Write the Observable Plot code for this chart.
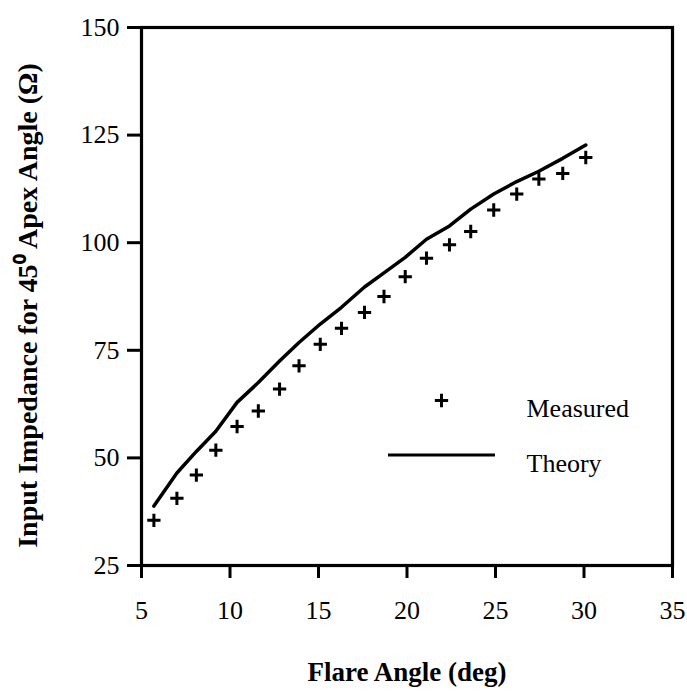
<!DOCTYPE html>
<html>
<head>
<meta charset="utf-8">
<script src="https://cdn.jsdelivr.net/npm/d3@7"></script>
<script src="https://cdn.jsdelivr.net/npm/@observablehq/plot@0.6"></script>
<style>
  html, body { margin: 0; padding: 0; background: #fff; }
  #chart { width: 687px; height: 693px; }
</style>
</head>
<body>
<div id="chart"></div>
<script>
// Flare angle (deg) of each measurement
const flareAngle = [5.7, 7.0, 8.1, 9.2, 10.4, 11.6, 12.8, 13.9, 15.1, 16.3, 17.6, 18.7, 19.9, 21.1, 22.4, 23.6, 24.9, 26.2, 27.45, 28.8, 30.1];
// Measured input impedance (ohm)
const measured = [35.5, 40.6, 46.0, 51.8, 57.3, 60.9, 66.0, 71.4, 76.4, 80.1, 83.8, 87.5, 92.1, 96.4, 99.5, 102.6, 107.6, 111.3, 114.8, 116.1, 119.8];
// Theory input impedance (ohm)
const theory = [38.8, 46.5, 51.5, 56.2, 62.9, 67.5, 72.5, 76.8, 81.1, 85.0, 89.7, 93.0, 96.6, 100.8, 103.9, 107.8, 111.3, 114.2, 116.6, 119.6, 122.7];
// Axis ticks
const xTicks = [5, 10, 15, 20, 25, 30, 35];
const yTicks = [25, 50, 75, 100, 125, 150];
// Texts
const xTitle = "Flare Angle (deg)";
const yTitle = "Input Impedance for 45\u2070 Apex Angle (\u03A9)";
const legendLabels = ["Measured", "Theory"];

const measuredData = flareAngle.map((x, i) => ({x, y: measured[i]}));
const theoryData = flareAngle.map((x, i) => ({x, y: theory[i]}));

const plusSymbol = {
  draw(ctx, size) {
    const r = Math.sqrt(size) / 2;
    ctx.moveTo(-r, 0); ctx.lineTo(r, 0);
    ctx.moveTo(0, -r); ctx.lineTo(0, r);
  }
};

function legendLine(...args) {
  const dims = args.find(a => a && a.marginLeft !== undefined && a.width !== undefined);
  const x0 = dims.marginLeft + 247, x1 = dims.marginLeft + 354, y = dims.marginTop + 428;
  const l = document.createElementNS("http://www.w3.org/2000/svg", "line");
  l.setAttribute("x1", x0); l.setAttribute("x2", x1);
  l.setAttribute("y1", y); l.setAttribute("y2", y);
  l.setAttribute("stroke", "#000"); l.setAttribute("stroke-width", 3);
  return l;
}

const plot = Plot.plot({
  width: 687,
  height: 693,
  marginLeft: 141,
  marginRight: 15,
  marginTop: 27,
  marginBottom: 128,
  style: { fontFamily: "'Liberation Serif', serif", fontSize: "26px", color: "#000", background: "#fff" },
  x: { domain: [5, 35] },
  y: { domain: [25, 150] },
  marks: [
    Plot.frame({ stroke: "#000", strokeWidth: 3.2 }),
    Plot.axisX(xTicks, { tickSize: 13, tickPadding: 22, strokeWidth: 3, label: null, fontSize: 26 }),
    Plot.axisY(yTicks, { tickSize: 14, tickPadding: 8, strokeWidth: 3, label: null, fontSize: 26 }),
    Plot.line(theoryData, { x: "x", y: "y", stroke: "#000", strokeWidth: 3.5 }),
    Plot.dot(measuredData, { x: "x", y: "y", symbol: plusSymbol, r: 7.5, stroke: "#000", fill: "none", strokeWidth: 3 }),
    Plot.dot([legendLabels[0]], { frameAnchor: "top-left", dx: 300, dy: 373, symbol: plusSymbol, r: 7.5, stroke: "#000", fill: "none", strokeWidth: 3 }),
    Plot.text([legendLabels[0]], { frameAnchor: "top-left", dx: 385, dy: 371, text: d => d, textAnchor: "start", fontSize: 26 }),
    legendLine,
    Plot.text([legendLabels[1]], { frameAnchor: "top-left", dx: 385, dy: 426, text: d => d, textAnchor: "start", fontSize: 26 }),
    Plot.text([xTitle], { frameAnchor: "bottom", dy: 115, text: d => d, textAnchor: "middle", fontWeight: "bold", fontSize: 27 }),
    Plot.text([yTitle], { frameAnchor: "left", dx: -113, dy: 9, text: d => d, textAnchor: "middle", rotate: -90, fontWeight: "bold", fontSize: 28 })
  ]
});
document.getElementById("chart").appendChild(plot);
</script>
</body>
</html>
